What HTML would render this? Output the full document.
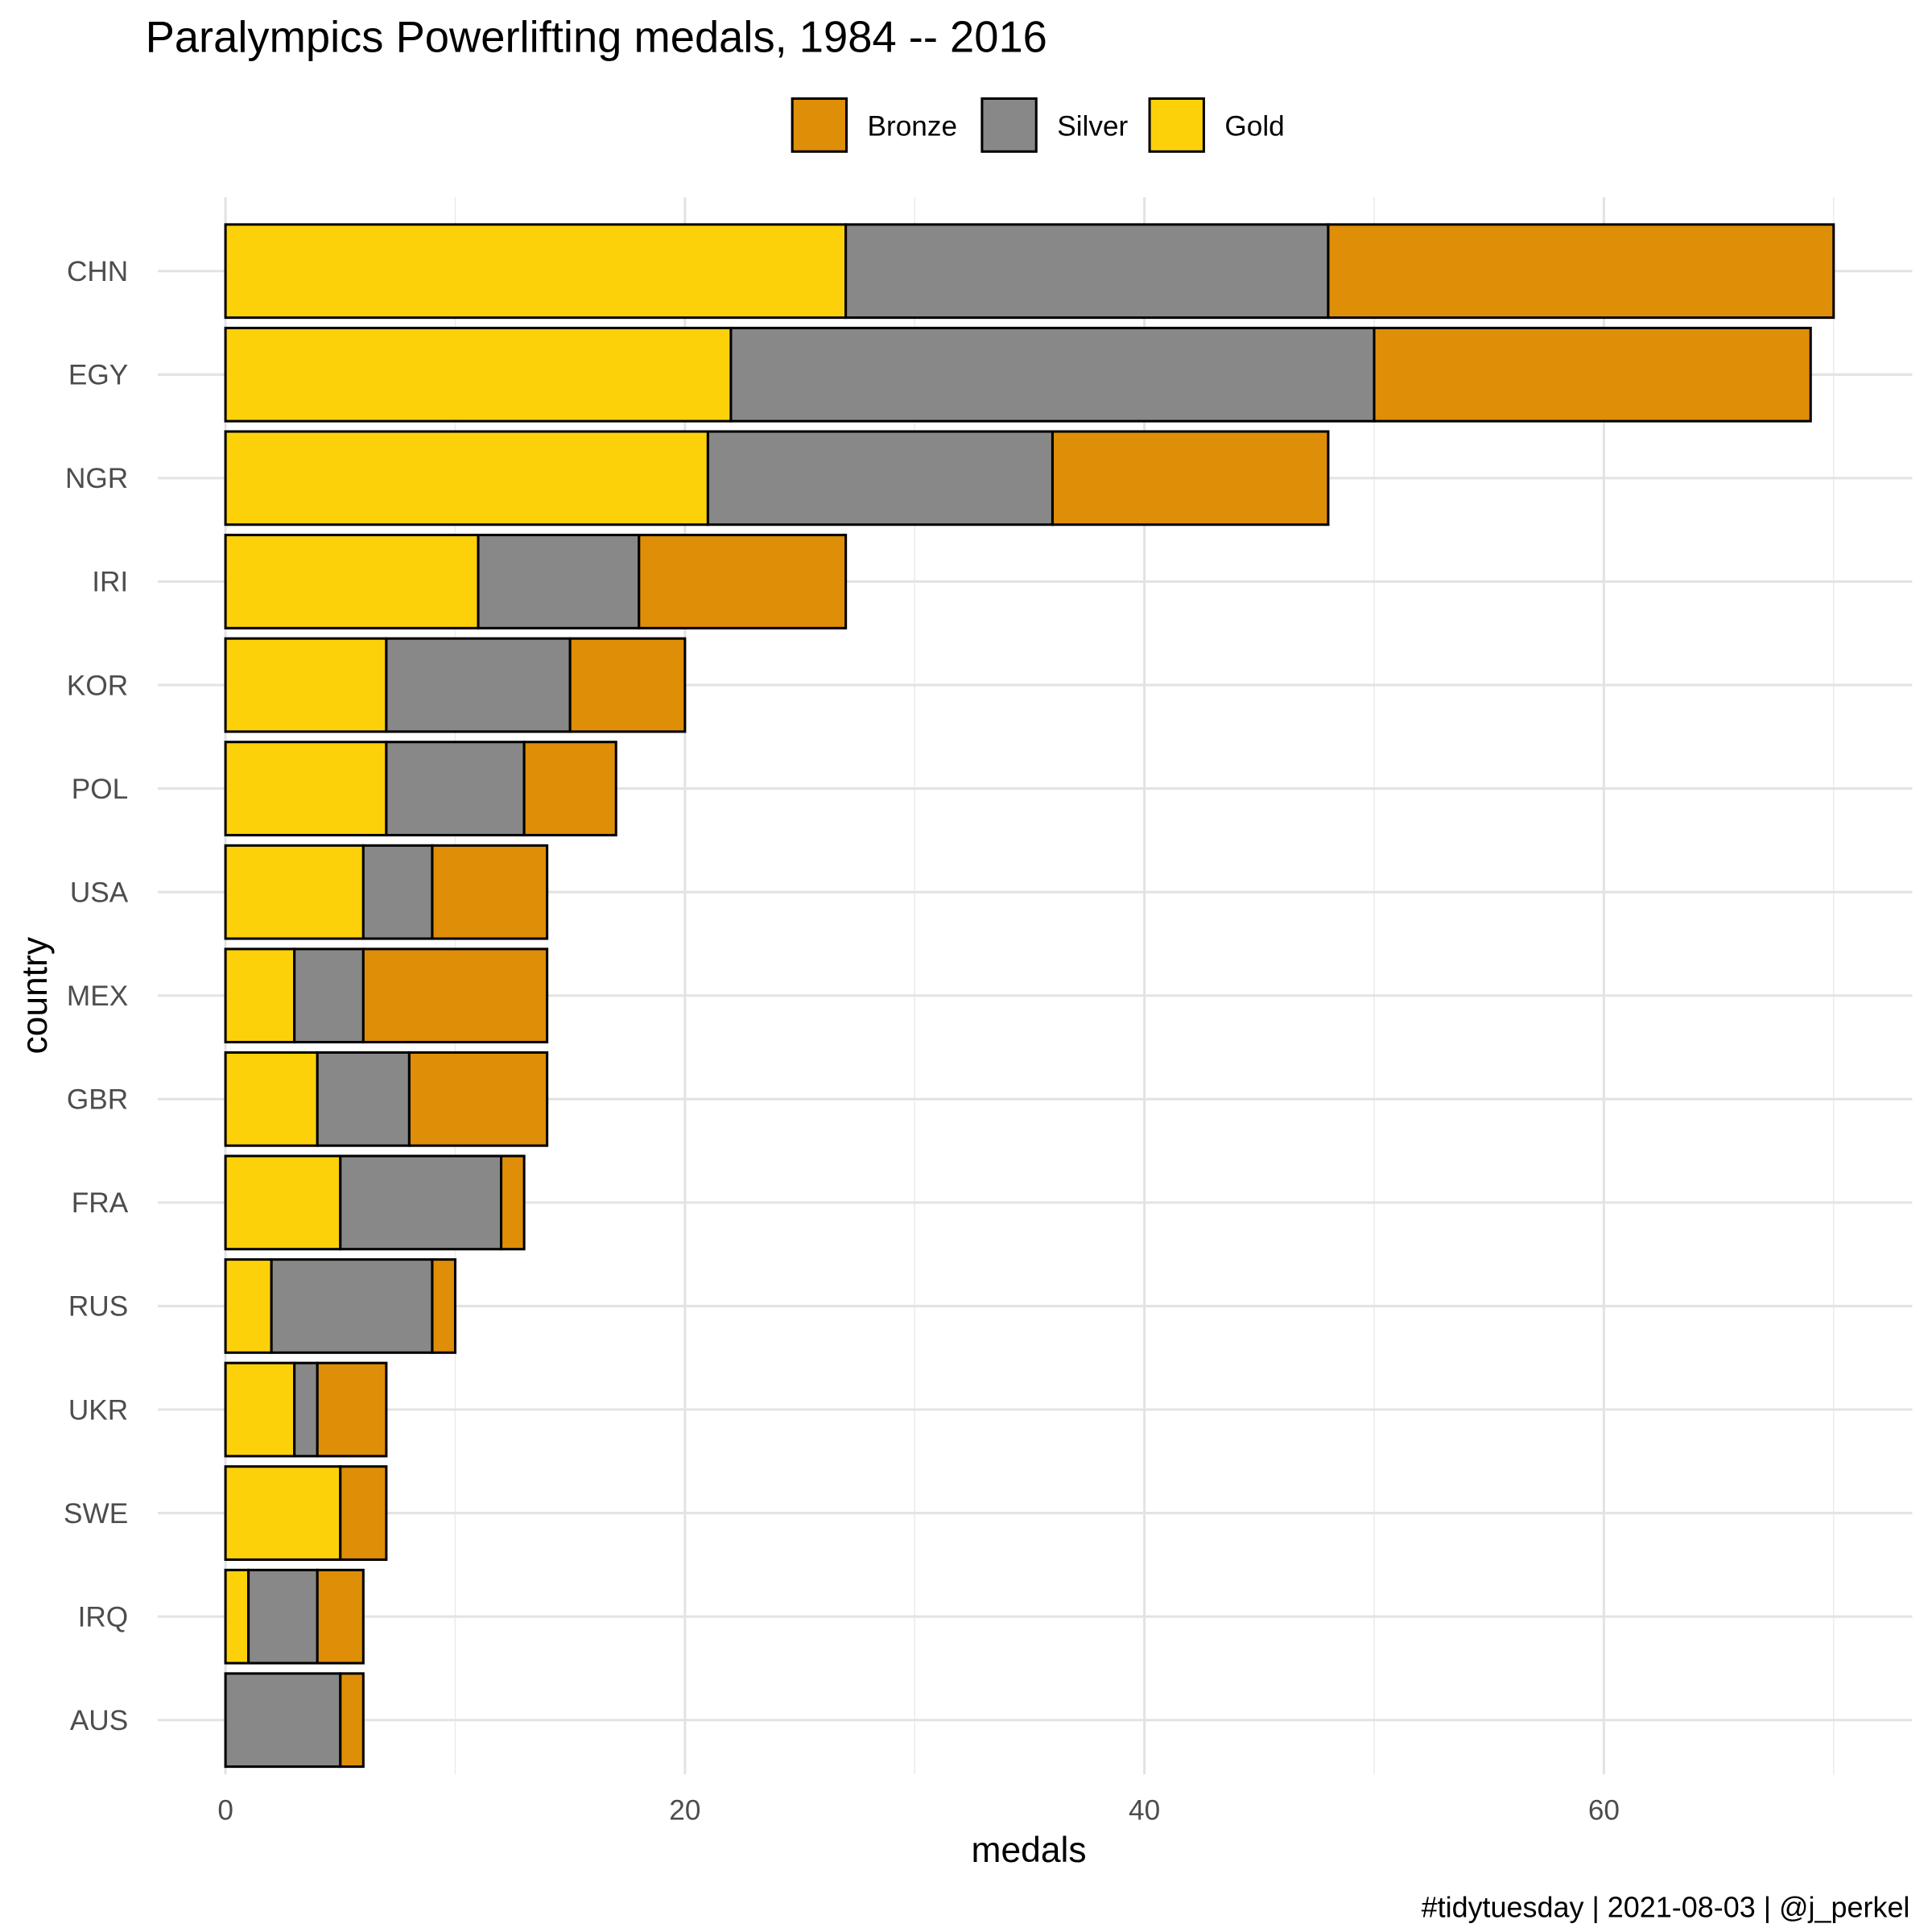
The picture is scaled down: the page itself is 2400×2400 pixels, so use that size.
<!DOCTYPE html>
<html><head><meta charset="utf-8"><style>
html,body{margin:0;padding:0;background:#fff}
svg{display:block;font-family:"Liberation Sans",Arial,sans-serif}
</style></head><body>
<svg id="chart" width="2400" height="2400" viewBox="0 0 1568 1568" xmlns="http://www.w3.org/2000/svg">
<rect width="1568" height="1568" fill="#fff"/>
<text x="118" y="42" font-size="35.5" fill="#000">Paralympics Powerlifting medals, 1984 -- 2016</text>
<g id="legend"></g>
<g id="grid"></g>
<g id="bars"></g>
<g id="axes"></g>
<text x="835" y="1511" font-size="29" text-anchor="middle">medals</text>
<text transform="translate(38,808) rotate(-90)" font-size="29" text-anchor="middle">country</text>
<text x="1550" y="1556" font-size="23.5" text-anchor="end">#tidytuesday | 2021-08-03 | @j_perkel</text>
</svg>
<script>
const countries=["CHN","EGY","NGR","IRI","KOR","POL","USA","MEX","GBR","FRA","RUS","UKR","SWE","IRQ","AUS"];
const gold=[27,22,21,11,7,7,6,3,4,5,2,3,5,1,0];
const silver=[21,28,15,7,8,6,3,3,4,7,7,1,0,3,5];
const bronze=[22,19,12,9,5,4,5,8,6,1,1,3,2,2,1];
const xTicks=[0,20,40,60];
const xMinor=[10,30,50,70];
const seriesNames=["Bronze","Silver","Gold"];
const seriesColors={Gold:"#FDD10A",Silver:"#888888",Bronze:"#DF8E08"};
const NS="http://www.w3.org/2000/svg";
const x=v=>183+v*18.645;
const y=i=>220+i*84;
const bh=75.6;
function mk(tag,attrs,parent){const e=document.createElementNS(NS,tag);for(const k in attrs)e.setAttribute(k,attrs[k]);parent.appendChild(e);return e;}
const grid=document.getElementById('grid'),bars=document.getElementById('bars'),axes=document.getElementById('axes'),legend=document.getElementById('legend');
xMinor.forEach(v=>{const l=mk('line',{x1:x(v),x2:x(v),y1:160,y2:1440,stroke:'#ebebeb','stroke-width':1},grid);

});
xTicks.forEach(v=>{const l=mk('line',{x1:x(v),x2:x(v),y1:160,y2:1440,stroke:'#e3e3e3','stroke-width':2},grid);


const t=mk('text',{x:x(v),y:1477,'font-size':23,fill:'#4d4d4d','text-anchor':'middle'},axes);t.textContent=v;

});
countries.forEach((c,i)=>{const l=mk('line',{x1:128,x2:1552,y1:y(i),y2:y(i),stroke:'#e3e3e3','stroke-width':2},grid);


const t=mk('text',{x:104,y:y(i)+8,'font-size':23,fill:'#4d4d4d','text-anchor':'end'},axes);t.textContent=c;


const segs=[["Gold",0,gold[i]],["Silver",gold[i],gold[i]+silver[i]],["Bronze",gold[i]+silver[i],gold[i]+silver[i]+bronze[i]]];
segs.forEach(s=>{if(s[2]<=s[1])return;const r=mk('rect',{x:x(s[1]),y:y(i)-bh/2,width:x(s[2])-x(s[1]),height:bh,fill:seriesColors[s[0]],stroke:'#000','stroke-width':2},bars);

});});
const lx=[643,797,933];
seriesNames.forEach((n,i)=>{const r=mk('rect',{x:lx[i],y:80,width:44,height:43,fill:seriesColors[n],stroke:'#000','stroke-width':2},legend);


const t=mk('text',{x:lx[i]+61,y:110,'font-size':23,fill:'#000'},legend);t.textContent=n;

});
</script>
</body></html>
